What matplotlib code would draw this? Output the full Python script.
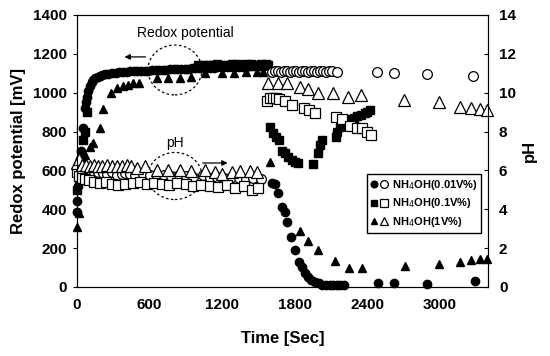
import matplotlib
matplotlib.use("Agg")
import matplotlib.pyplot as plt
from matplotlib.patches import Ellipse
from matplotlib.legend_handler import HandlerTuple

plt.rcParams['font.family'] = ['Liberation Sans Narrow', 'Liberation Sans', 'DejaVu Sans']

# redox potential (mV), filled markers, left axis
t_redox_001 = [0, 0, 5, 12, 22, 35, 50, 66, 75, 85, 95, 105, 120, 135, 150, 170, 190, 210, 235,
               260, 290, 320, 350, 380, 410, 440, 470, 500, 530, 560, 590, 620, 650, 680, 710,
               740, 770, 800, 830, 860, 890, 920, 950, 980, 1010, 1040, 1070, 1100, 1130, 1160,
               1190, 1220, 1250, 1280, 1310, 1340, 1370, 1400, 1430, 1460, 1490, 1520, 1550,
               1612, 1638, 1663, 1695, 1720, 1737, 1770, 1803, 1836, 1860, 1886, 1910, 1940,
               1970, 2000, 2030, 2060, 2090, 2120, 2150, 2180, 2210, 2490, 2620, 2900, 3290]
v_redox_001 = [385, 440, 520, 600, 660, 700, 820, 921, 952, 980, 1010, 1035, 1055, 1065, 1075,
               1082, 1088, 1092, 1095, 1098, 1100, 1102, 1104, 1106, 1108, 1109, 1110, 1111, 1112,
               1113, 1114, 1115, 1116, 1117, 1118, 1119, 1120, 1121, 1122, 1123, 1124, 1124, 1125,
               1126, 1126, 1127, 1128, 1128, 1129, 1130, 1130, 1131, 1132, 1132, 1133, 1133, 1134,
               1134, 1135, 1135, 1136, 1136, 1137,
               535, 530, 484, 412, 386, 335, 257, 190, 129, 103, 72, 51, 35,
               25, 18, 12, 10, 8, 8, 8, 8, 10, 20, 20, 15, 31]

t_redox_01 = [0, 15, 30, 50, 66, 80, 1000, 1040, 1080, 1120, 1160, 1200, 1240, 1280, 1320, 1360,
              1400, 1440, 1480, 1520, 1560, 1580, 1600, 1625, 1650, 1671, 1700, 1720, 1750,
              1778, 1800, 1828, 1952, 1993, 2010, 2026, 2140, 2150, 2175, 2200, 2235, 2260,
              2290, 2320, 2350, 2380, 2400, 2423]
v_redox_01 = [500, 560, 650, 757, 800, 900, 1140, 1143, 1140, 1142, 1145, 1143, 1140, 1145, 1146,
              1142, 1145, 1146, 1143, 1145, 1146, 1140, 823, 790, 772, 757, 700, 690, 670,
              654, 643, 636, 633, 690, 731, 755, 772, 800, 823, 840, 854, 862, 870,
              880, 885, 895, 900, 911]

t_redox_1 = [0, 20, 40, 55, 70, 107, 132, 190, 215, 281, 331, 380, 422, 463, 513, 662, 753,
             852, 943, 1059, 1200, 1300, 1400, 1489, 1540, 1600, 1845, 1911, 1993, 2134,
             2250, 2357, 2713, 2994, 3168, 3259, 3333, 3390]
v_redox_1 = [309, 380, 560, 640, 680, 720, 741, 818, 916, 1000, 1024, 1032, 1040, 1048, 1050,
             1073, 1075, 1075, 1080, 1100, 1100, 1103, 1105, 1107, 1107, 643, 288, 237, 188,
             132, 100, 100, 110, 120, 128, 139, 144, 144]

# pH, open markers, right axis
t_ph_001 = [0, 10, 25, 50, 80, 110, 140, 170, 215, 250, 290, 330, 370, 397, 440, 480, 546, 600,
            660, 720, 780, 840, 900, 960, 1042, 1100, 1160, 1220, 1280, 1340, 1400, 1460, 1520,
            1612, 1635, 1660, 1685, 1710, 1735, 1760, 1785, 1810, 1835, 1860, 1885, 1910, 1935,
            1960, 1985, 2010, 2035, 2060, 2085, 2110, 2150, 2480, 2620, 2895, 3275]
ph_001 = [6.0, 5.9, 5.95, 5.9, 5.85, 5.9, 5.85, 5.9, 5.85, 5.8, 5.9, 5.75, 5.8, 5.85, 5.8, 5.75,
          5.8, 5.75, 5.7, 5.75, 5.7, 5.75, 5.7, 5.65, 5.75, 5.6, 5.65, 5.6, 5.65, 5.6, 5.55,
          5.6, 5.55,
          11.05, 11.1, 11.1, 11.05, 11.1, 11.1, 11.05, 11.1, 11.1, 11.05, 11.1, 11.1, 11.05,
          11.1, 11.1, 11.05, 11.1, 11.1, 11.05, 11.1, 11.1, 11.07, 11.07, 11.02, 10.97, 10.86]

t_ph_01 = [0, 15, 40, 70, 100, 140, 190, 240, 290, 340, 400, 460, 520, 580, 640, 700, 760,
           830, 900, 960, 1030, 1100, 1170, 1240, 1310, 1380, 1450, 1500,
           1572, 1600, 1625, 1650, 1675, 1720, 1778, 1880, 1920, 1968, 2142, 2192, 2258,
           2316, 2357, 2398, 2432]
ph_01 = [5.9, 5.7, 5.6, 5.55, 5.5, 5.4, 5.35, 5.4, 5.3, 5.25, 5.3, 5.35, 5.4, 5.3, 5.35, 5.3,
         5.25, 5.35, 5.3, 5.2, 5.25, 5.2, 5.15, 5.25, 5.1, 5.2, 5.0, 5.1,
         9.57, 9.75, 9.75, 9.7, 9.65, 9.55, 9.37, 9.2, 9.1, 8.95, 8.75, 8.65, 8.3,
         8.2, 8.2, 8.0, 7.8]

t_ph_1 = [0, 20, 45, 75, 110, 140, 175, 210, 250, 290, 330, 370, 410, 450, 500, 560, 662, 753,
          852, 943, 1059, 1140, 1200, 1280, 1350, 1430, 1490,
          1580, 1663, 1737, 1845, 1911, 1993, 2118, 2242, 2349, 2705, 2994, 3168, 3259,
          3333, 3390]
ph_1 = [6.4, 6.6, 6.3, 6.3, 6.2, 6.3, 6.2, 6.25, 6.3, 6.2, 6.25, 6.2, 6.3, 6.2, 6.1, 6.2,
        6.0, 6.0, 6.0, 5.95, 6.0, 5.9, 5.8, 5.9, 5.95, 5.95, 5.9,
        10.5, 10.5, 10.5, 10.3, 10.2, 10.0, 10.0, 9.8, 9.9, 9.6, 9.5, 9.26, 9.2,
        9.16, 9.1]

labels = ['NH$_4$OH(0.01V%)', 'NH$_4$OH(0.1V%)', 'NH$_4$OH(1V%)']

fig = plt.figure(figsize=(5.5, 3.56), dpi=100)
ax = fig.add_axes([0.14, 0.194, 0.747, 0.764])
ax2 = ax.twinx()

ms = 6
kw = dict(linestyle='none', clip_on=False, color='black')
f1, = ax.plot(t_redox_001, v_redox_001, marker='o', markersize=ms, **kw)
f2, = ax.plot(t_redox_01, v_redox_01, marker='s', markersize=ms, **kw)
f3, = ax.plot(t_redox_1, v_redox_1, marker='^', markersize=ms, **kw)

kwo = dict(linestyle='none', clip_on=False, color='black', markerfacecolor='white',
           markeredgewidth=0.9)
o1, = ax2.plot(t_ph_001, ph_001, marker='o', markersize=ms + 1, **kwo)
o2, = ax2.plot(t_ph_01, ph_01, marker='s', markersize=ms + 1, **kwo)
o3, = ax2.plot(t_ph_1, ph_1, marker='^', markersize=ms + 2, **kwo)

ax.set_xlim(0, 3400)
ax.set_ylim(0, 1400)
ax2.set_ylim(0, 14)
ax.set_xticks([0, 600, 1200, 1800, 2400, 3000])
ax.set_yticks(range(0, 1401, 200))
ax2.set_yticks(range(0, 15, 2))

for a in (ax, ax2):
    a.tick_params(labelsize=11, length=3, width=0.8)
    for lab in a.get_xticklabels() + a.get_yticklabels():
        lab.set_fontweight('bold')
ax.tick_params(axis='x', length=0, pad=8)
ax.tick_params(axis='y', pad=4)
ax2.tick_params(axis='y', direction='in', pad=8)

ax.set_xlabel('Time [Sec]', fontsize=12, fontweight='bold', labelpad=14)
ax.set_ylabel('Redox potential [mV]', fontsize=12, fontweight='bold')
ax.yaxis.set_label_coords(-0.125, 0.5)
ax2.set_ylabel('pH', fontsize=12, fontweight='bold', labelpad=4)

# annotations: dashed ellipses, arrows and labels
ax.add_patch(Ellipse((810, 1117), 447, 257, fill=False, linestyle=(0, (2, 2)), lw=0.9))
ax.add_patch(Ellipse((810, 571), 447, 242, fill=False, linestyle=(0, (2, 2)), lw=0.9))
ax.annotate('', xy=(370, 1184), xytext=(590, 1184),
            arrowprops=dict(arrowstyle='-|>', color='black', lw=0.9, mutation_scale=8))
ax.annotate('', xy=(1270, 638), xytext=(1017, 638),
            arrowprops=dict(arrowstyle='-|>', color='black', lw=0.9, mutation_scale=8))
ax.text(893, 1307, 'Redox potential', ha='center', va='center', fontsize=10)
ax.text(810, 741, 'pH', ha='center', va='center', fontsize=10)

ax.legend([(f1, o1), (f2, o2), (f3, o3)], labels,
          handler_map={tuple: HandlerTuple(ndivide=None, pad=0.3)},
          loc='upper left', bbox_to_anchor=(0.705, 0.415), fancybox=False,
          edgecolor='black', framealpha=1, prop={'size': 8, 'weight': 'bold'},
          handlelength=1.5, handletextpad=0.4, borderpad=0.35, labelspacing=0.4,
          markerscale=0.8, borderaxespad=0)

fig.savefig('out.png', dpi=100)
